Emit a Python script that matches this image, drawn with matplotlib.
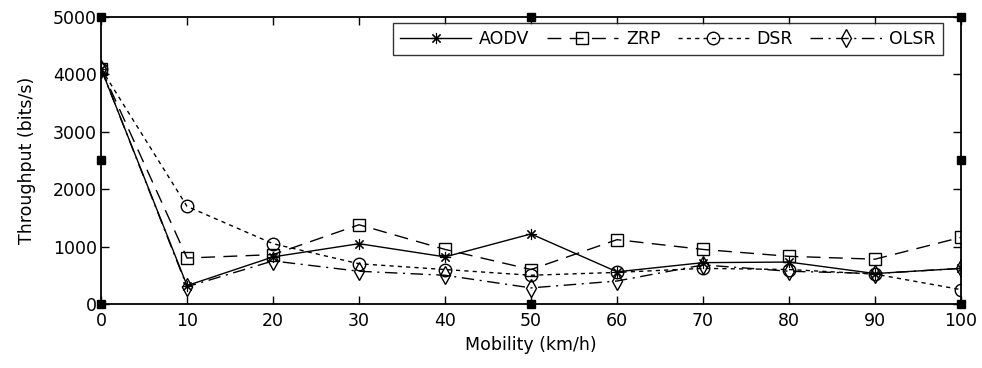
import matplotlib
matplotlib.use("Agg")
import matplotlib.pyplot as plt

plt.rcParams['font.family'] = ['DejaVu Sans']

mobility = [0, 10, 20, 30, 40, 50, 60, 70, 80, 90, 100]
aodv = [4100, 320, 820, 1050, 820, 1220, 560, 720, 730, 530, 620]
zrp = [4100, 800, 860, 1380, 950, 600, 1120, 950, 830, 780, 1160]
dsr = [4100, 1700, 1050, 700, 600, 500, 550, 620, 600, 520, 250]
olsr = [4100, 300, 750, 570, 500, 280, 400, 680, 570, 530, 620]

fig = plt.figure(figsize=(9.82, 3.68), dpi=100)
ax = fig.add_axes([0.1029, 0.174, 0.8757, 0.780])

fs = 12.5
lw = 1.0
ms = 9
ax.plot(mobility, aodv, color='black', lw=lw, linestyle='-', marker=(8, 2, 0), ms=8,
        mfc='none', mec='black', mew=0.8, label='AODV')
ax.plot(mobility, zrp, color='black', lw=lw, linestyle=(0, (10, 6)), marker='s', ms=ms,
        mfc='none', mec='black', label='ZRP')
ax.plot(mobility, dsr, color='black', lw=lw, linestyle=(0, (3, 3)), marker='o', ms=ms,
        mfc='none', mec='black', label='DSR')
ax.plot(mobility, olsr, color='black', lw=lw, linestyle=(0, (9, 4, 1.5, 4)), marker='d', ms=ms,
        mfc='none', mec='black', label='OLSR')

ax.set_xlim(0, 100)
ax.set_ylim(0, 5000)
ax.set_xticks(range(0, 101, 10))
ax.set_yticks(range(0, 5001, 1000))
ax.tick_params(direction='in', top=True, right=True, length=6, width=1,
               labelsize=fs)
ax.tick_params(axis='x', pad=6)
ax.tick_params(axis='y', pad=3)
for s in ax.spines.values():
    s.set_linewidth(1.3)

ax.set_xlabel('Mobility (km/h)', fontsize=fs, labelpad=4)
ax.set_ylabel('Throughput (bits/s)', fontsize=fs, labelpad=12)

leg = ax.legend(loc='upper right', bbox_to_anchor=(0.979, 0.979), ncol=4,
                fontsize=fs, frameon=True, fancybox=False,
                edgecolor='black', handlelength=4.1, handletextpad=0.45,
                columnspacing=1.0, borderaxespad=0.0, borderpad=0.4)
leg.get_frame().set_linewidth(1.0)

# figure selection handles (black squares) at axes corners and midpoints
for (hx, hy) in [(0, 0), (0.5, 0), (1, 0), (0, 0.5), (1, 0.5), (0, 1), (0.5, 1), (1, 1)]:
    ax.plot([hx], [hy], marker='s', color='black', ms=6, transform=ax.transAxes,
            clip_on=False, zorder=5)

fig.savefig('out.png', dpi=100)
